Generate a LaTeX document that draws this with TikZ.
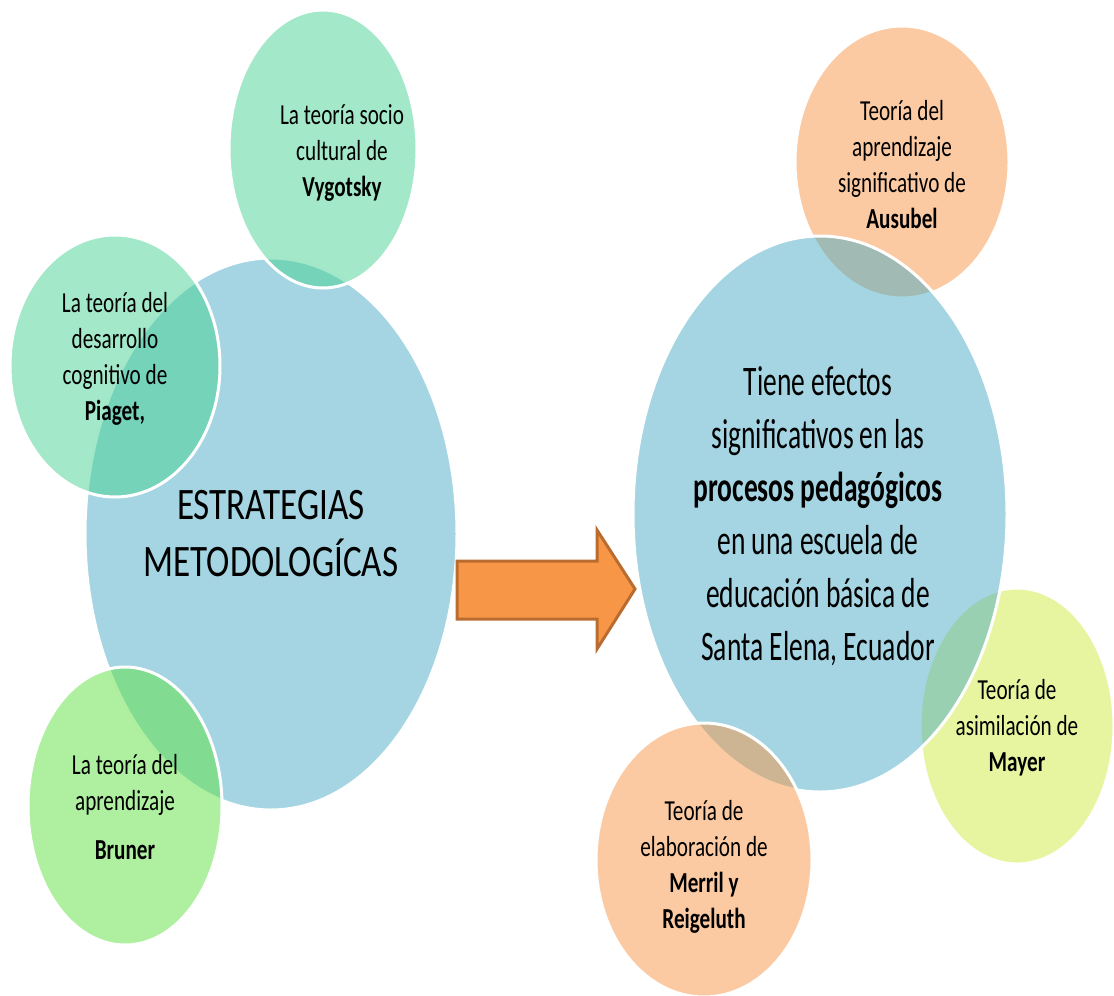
\documentclass[tikz,border=0pt]{standalone}
\usepackage{fontspec}
\setmainfont{Carlito}
\usepackage{graphicx}
\usetikzlibrary{shapes.geometric}
\definecolor{blueC}{RGB}{75,172,198}
\definecolor{mintC}{RGB}{71,209,147}
\definecolor{limeC}{RGB}{95,225,65}
\definecolor{peachC}{RGB}{247,150,70}
\definecolor{yellowC}{RGB}{209,235,65}
\definecolor{arrowC}{RGB}{247,150,70}
\definecolor{arrowEdge}{RGB}{186,108,48}
\newcommand{\sqtext}[2]{\scalebox{#1}[1]{\begin{tabular}{@{}c@{}}#2\end{tabular}}}
\tikzset{
  bubble/.style={ellipse, draw=white, line width=1.5pt, fill opacity=0.5, draw opacity=1, inner sep=0pt},
  label text/.style={inner sep=0pt, text=black},
  small/.style={label text, font=\fontsize{14.5}{18}\selectfont},
  bigL/.style={label text, font=\fontsize{22.5}{28.5}\selectfont},
  bigR/.style={label text, font=\fontsize{21}{26.5}\selectfont},
}
\begin{document}
\begin{tikzpicture}[x=0.5pt,y=-0.5pt]
\useasboundingbox (0,0) rectangle (1114,996);
% shapes, back to front
\node[bubble, fill=blueC, minimum width=186pt, minimum height=276pt] (left) at (271,534) {};
\node[bubble, fill=mintC, minimum width=94pt, minimum height=139pt] (vyg) at (323,149) {};
\node[bubble, fill=mintC, minimum width=105pt, minimum height=131pt] (pia) at (115,366) {};
\node[bubble, fill=limeC, minimum width=97pt, minimum height=139pt] (bru) at (125,806) {};
\node[bubble, fill=peachC, minimum width=107pt, minimum height=136pt] (aus) at (902,162) {};
\node[bubble, fill=yellowC, minimum width=97pt, minimum height=138pt] (may) at (1017,726) {};
\node[bubble, fill=blueC, minimum width=187pt, minimum height=278pt] (right) at (820,514) {};
\node[bubble, fill=peachC, minimum width=108pt, minimum height=137pt] (mer) at (704,860) {};
% texts
\node[bigL] (leftT) at ([yshift=-1.5pt]left.center) {\sqtext{0.78}{ESTRATEGIAS\\METODOLOGÍCAS}};
\node[small] (vygT) at ([xshift=9.5pt,yshift=-2pt]vyg.center) {\sqtext{0.73}{La teoría socio\\cultural de\\\textbf{Vygotsky}}};
\node[small] (piaT) at ([yshift=3.5pt]pia.center) {\sqtext{0.73}{La teoría del\\desarrollo\\cognitivo de\\\textbf{Piaget,}}};
\node[small] (bruT) at ([yshift=-2pt]bru.center) {\sqtext{0.73}{La teoría del\\aprendizaje\\[6.5pt]\textbf{Bruner}}};
\node[small] (ausT) at ([yshift=-2.5pt]aus.center) {\sqtext{0.73}{Teoría del\\aprendizaje\\significativo de\\\textbf{Ausubel}}};
\node[small] (mayT) at ([yshift=-1pt]may.center) {\sqtext{0.73}{Teoría de\\asimilación de\\\textbf{Mayer}}};
\node[bigR] (rightT) at ([xshift=-1pt,yshift=-1.5pt]right.center) {\sqtext{0.655}{Tiene efectos\\significativos en las\\\textbf{procesos pedagógicos}\\en una escuela de\\educación básica de\\Santa Elena, Ecuador}};
\node[small] (merT) at ([yshift=-3.5pt]mer.center) {\sqtext{0.73}{Teoría de\\elaboración de\\\textbf{Merril y}\\\textbf{Reigeluth}}};
% block arrow between the two groups
\draw[fill=arrowC, draw=arrowEdge, line width=1.5pt, line join=miter]
  (457,561) -- (597,561) -- (597,530) -- (635,589) -- (597,649) -- (597,619) -- (457,619) -- cycle;
\end{tikzpicture}
\end{document}
